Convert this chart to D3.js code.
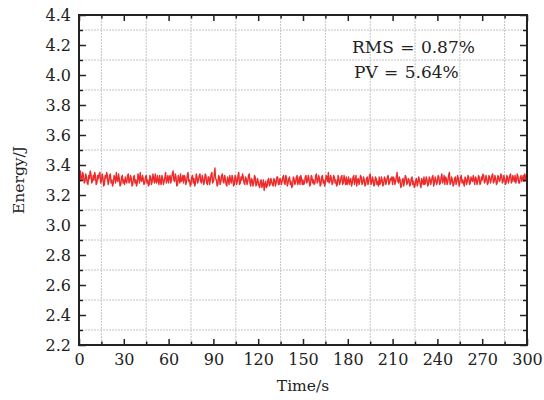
<!DOCTYPE html>
<html>
<head>
<meta charset="utf-8">
<script src="https://cdn.jsdelivr.net/npm/d3@7"></script>
<style>
  body { margin: 0; background: #fff; }
  text { font-family: "DejaVu Serif", serif; fill: #222; }
</style>
</head>
<body>
<div id="chart"></div>
<script>
// energy samples on whole seconds, 0..300 s
var energy = [
  3.34, 3.36, 3.30, 3.33, 3.29, 3.32, 3.27, 3.31, 3.34, 3.29,
  3.30, 3.33, 3.28, 3.31, 3.35, 3.29, 3.32, 3.27, 3.31, 3.33,
  3.29, 3.34, 3.30, 3.28, 3.32, 3.35, 3.29, 3.31, 3.27, 3.33,
  3.30, 3.32, 3.28, 3.34, 3.29, 3.31, 3.27, 3.33, 3.30, 3.28,
  3.32, 3.35, 3.29, 3.31, 3.28, 3.33, 3.30, 3.27, 3.32, 3.29,
  3.31, 3.34, 3.28, 3.30, 3.33, 3.27, 3.31, 3.29, 3.35, 3.30,
  3.28, 3.33, 3.31, 3.36, 3.29, 3.32, 3.27, 3.31, 3.34, 3.30,
  3.28, 3.32, 3.29, 3.35, 3.30, 3.27, 3.33, 3.31, 3.28, 3.32,
  3.30, 3.34, 3.28, 3.31, 3.29, 3.33, 3.27, 3.32, 3.30, 3.35,
  3.29, 3.38, 3.30, 3.27, 3.32, 3.29, 3.34, 3.28, 3.31, 3.26,
  3.30, 3.33, 3.28, 3.31, 3.27, 3.32, 3.29, 3.35, 3.28, 3.30,
  3.32, 3.27, 3.31, 3.29, 3.34, 3.26, 3.30, 3.28, 3.32, 3.27,
  3.29, 3.25, 3.30, 3.27, 3.23, 3.29, 3.26, 3.31, 3.27, 3.29,
  3.26, 3.30, 3.28, 3.32, 3.27, 3.30, 3.29, 3.33, 3.27, 3.31,
  3.28, 3.32, 3.29, 3.26, 3.31, 3.28, 3.33, 3.29, 3.27, 3.31,
  3.30, 3.28, 3.33, 3.29, 3.31, 3.27, 3.32, 3.30, 3.28, 3.34,
  3.29, 3.31, 3.27, 3.33, 3.30, 3.28, 3.32, 3.35, 3.29, 3.31,
  3.28, 3.32, 3.30, 3.27, 3.31, 3.29, 3.33, 3.28, 3.30, 3.32,
  3.29, 3.27, 3.31, 3.28, 3.33, 3.30, 3.26, 3.31, 3.29, 3.32,
  3.28, 3.30, 3.27, 3.32, 3.29, 3.34, 3.28, 3.30, 3.27, 3.31,
  3.29, 3.32, 3.28, 3.30, 3.27, 3.31, 3.29, 3.33, 3.28, 3.30,
  3.27, 3.31, 3.29, 3.35, 3.28, 3.30, 3.26, 3.31, 3.29, 3.32,
  3.28, 3.30, 3.27, 3.32, 3.29, 3.26, 3.31, 3.28, 3.30, 3.25,
  3.29, 3.32, 3.28, 3.30, 3.27, 3.31, 3.29, 3.33, 3.28, 3.30,
  3.29, 3.32, 3.28, 3.34, 3.30, 3.27, 3.31, 3.29, 3.35, 3.28,
  3.30, 3.27, 3.32, 3.29, 3.31, 3.28, 3.33, 3.30, 3.26, 3.31,
  3.29, 3.32, 3.28, 3.30, 3.33, 3.27, 3.31, 3.29, 3.32, 3.28,
  3.30, 3.33, 3.29, 3.31, 3.28, 3.32, 3.30, 3.34, 3.29, 3.31,
  3.28, 3.32, 3.30, 3.33, 3.29, 3.31, 3.28, 3.32, 3.30, 3.34,
  3.29, 3.31, 3.33, 3.30, 3.32, 3.28, 3.33, 3.31, 3.29, 3.32, 3.31
];
// energy samples on half seconds, 0.5..299.5 s
var energyHalf = [
  3.29, 3.31, 3.35, 3.28, 3.34, 3.28, 3.33, 3.36, 3.28, 3.33,
  3.35, 3.27, 3.33, 3.34, 3.28, 3.34, 3.26, 3.33, 3.35, 3.27,
  3.33, 3.28, 3.26, 3.33, 3.28, 3.30, 3.34, 3.26, 3.32, 3.28,
  3.27, 3.29, 3.33, 3.28, 3.33, 3.26, 3.32, 3.28, 3.26, 3.34,
  3.28, 3.30, 3.33, 3.27, 3.32, 3.28, 3.26, 3.33, 3.27, 3.34,
  3.28, 3.29, 3.33, 3.27, 3.29, 3.33, 3.27, 3.32, 3.28, 3.33,
  3.32, 3.28, 3.34, 3.30, 3.34, 3.26, 3.33, 3.28, 3.29, 3.33,
  3.33, 3.27, 3.33, 3.29, 3.26, 3.32, 3.28, 3.26, 3.34, 3.28,
  3.33, 3.29, 3.33, 3.27, 3.34, 3.28, 3.32, 3.27, 3.34, 3.28,
  3.33, 3.31, 3.26, 3.33, 3.27, 3.33, 3.29, 3.33, 3.27, 3.32,
  3.27, 3.30, 3.33, 3.26, 3.33, 3.27, 3.33, 3.27, 3.32, 3.34,
  3.28, 3.32, 3.27, 3.33, 3.28, 3.31, 3.26, 3.33, 3.26, 3.31,
  3.26, 3.29, 3.25, 3.30, 3.27, 3.25, 3.30, 3.26, 3.31, 3.27,
  3.31, 3.26, 3.32, 3.27, 3.31, 3.27, 3.32, 3.28, 3.33, 3.26,
  3.31, 3.27, 3.25, 3.32, 3.27, 3.32, 3.27, 3.32, 3.33, 3.27,
  3.27, 3.32, 3.28, 3.33, 3.26, 3.33, 3.28, 3.27, 3.33, 3.28,
  3.33, 3.26, 3.32, 3.28, 3.26, 3.33, 3.29, 3.28, 3.33, 3.27,
  3.33, 3.28, 3.26, 3.33, 3.27, 3.32, 3.27, 3.33, 3.27, 3.27,
  3.32, 3.30, 3.26, 3.32, 3.27, 3.33, 3.30, 3.27, 3.33, 3.27,
  3.32, 3.26, 3.31, 3.27, 3.33, 3.27, 3.32, 3.26, 3.32, 3.27,
  3.26, 3.27, 3.32, 3.26, 3.32, 3.27, 3.32, 3.27, 3.31, 3.32,
  3.32, 3.27, 3.32, 3.29, 3.32, 3.25, 3.30, 3.26, 3.33, 3.27,
  3.31, 3.26, 3.31, 3.27, 3.25, 3.30, 3.26, 3.32, 3.27, 3.31,
  3.27, 3.27, 3.32, 3.26, 3.32, 3.27, 3.32, 3.26, 3.32, 3.27,
  3.33, 3.27, 3.32, 3.28, 3.33, 3.32, 3.27, 3.33, 3.27, 3.32,
  3.26, 3.31, 3.27, 3.33, 3.26, 3.32, 3.28, 3.28, 3.32, 3.27,
  3.33, 3.27, 3.32, 3.29, 3.30, 3.32, 3.27, 3.33, 3.27, 3.32,
  3.34, 3.28, 3.33, 3.27, 3.33, 3.28, 3.33, 3.28, 3.33, 3.27,
  3.33, 3.29, 3.34, 3.28, 3.33, 3.27, 3.33, 3.28, 3.33, 3.28,
  3.33, 3.29, 3.28, 3.34, 3.28, 3.32, 3.29, 3.33, 3.34, 3.29
];
var xTicks = [0, 30, 60, 90, 120, 150, 180, 210, 240, 270, 300];
var xMinor = [15, 45, 75, 105, 135, 165, 195, 225, 255, 285];
var yTicks = [2.2, 2.4, 2.6, 2.8, 3.0, 3.2, 3.4, 3.6, 3.8, 4.0, 4.2, 4.4];
var yMinor = [2.3, 2.5, 2.7, 2.9, 3.1, 3.3, 3.5, 3.7, 3.9, 4.1, 4.3];
var notes = ["RMS = 0.87%", "PV = 5.64%"];

// interleave the two sample sets into one time series
var series = [];
energy.forEach((v, i) => {
  series.push({t: i, v: v});
  if (i < energyHalf.length) series.push({t: i + 0.5, v: energyHalf[i]});
});

var width = 544, height = 400,
    margin = {top: 15, right: 17, bottom: 55, left: 79};
var w = width - margin.left - margin.right,
    h = height - margin.top - margin.bottom;

var svg = d3.select("#chart").append("svg")
  .attr("width", width)
  .attr("height", height);
var g = svg.append("g")
  .attr("transform", `translate(${margin.left},${margin.top})`);

var x = d3.scaleLinear().domain([0, 300]).range([0, w]);
var y = d3.scaleLinear().domain([2.2, 4.4]).range([h, 0]);

// grid lines sit on the minor positions
g.append("g").selectAll("line").data(xMinor).enter().append("line")
  .attr("x1", d => x(d)).attr("x2", d => x(d))
  .attr("y1", 0).attr("y2", h)
  .attr("stroke", "#c4c4c4").attr("stroke-width", 1)
  .attr("stroke-dasharray", "2,1");
g.append("g").selectAll("line").data(yMinor).enter().append("line")
  .attr("y1", d => y(d)).attr("y2", d => y(d))
  .attr("x1", 0).attr("x2", w)
  .attr("stroke", "#c4c4c4").attr("stroke-width", 1)
  .attr("stroke-dasharray", "2,1");

// the signal
var line = d3.line()
  .x(d => x(d.t))
  .y(d => y(d.v));
g.append("path")
  .datum(series)
  .attr("fill", "none")
  .attr("stroke", "#ee2b2b")
  .attr("stroke-width", 1.4)
  .attr("stroke-linejoin", "round")
  .attr("d", line);

// axes, ticks pointing inwards
function styleAxis(sel) {
  sel.select(".domain").remove();
  sel.selectAll("line").attr("stroke", "#222").attr("stroke-width", 1.5);
  sel.selectAll("text").style("font-size", "16px").attr("fill", "#222");
}

var fmtY = d3.format(".1f");
g.append("g").attr("transform", `translate(0,${h})`)
  .call(d3.axisBottom(x).tickValues(xTicks).tickSize(-6).tickPadding(9))
  .call(styleAxis);
g.append("g").attr("transform", `translate(0,${h})`)
  .call(d3.axisBottom(x).tickValues(xMinor).tickSize(-3.5).tickFormat(""))
  .call(styleAxis);
g.append("g")
  .call(d3.axisTop(x).tickValues(xTicks).tickSize(-6).tickFormat(""))
  .call(styleAxis);
g.append("g")
  .call(d3.axisTop(x).tickValues(xMinor).tickSize(-3.5).tickFormat(""))
  .call(styleAxis);

g.append("g")
  .call(d3.axisLeft(y).tickValues(yTicks).tickSize(-7).tickPadding(8).tickFormat(fmtY))
  .call(styleAxis);
g.append("g")
  .call(d3.axisLeft(y).tickValues(yMinor).tickSize(-4).tickFormat(""))
  .call(styleAxis);
g.append("g").attr("transform", `translate(${w},0)`)
  .call(d3.axisRight(y).tickValues(yTicks).tickSize(-7).tickFormat(""))
  .call(styleAxis);
g.append("g").attr("transform", `translate(${w},0)`)
  .call(d3.axisRight(y).tickValues(yMinor).tickSize(-4).tickFormat(""))
  .call(styleAxis);

// frame
g.append("rect")
  .attr("width", w).attr("height", h)
  .attr("fill", "none")
  .attr("stroke", "#222")
  .attr("stroke-width", 2);

// axis titles
svg.append("text")
  .attr("x", margin.left + w / 2).attr("y", 391)
  .attr("text-anchor", "middle")
  .style("font-size", "15.5px")
  .text("Time/s");
svg.append("text")
  .attr("transform", `translate(24,${margin.top + h / 2}) rotate(-90)`)
  .attr("text-anchor", "middle")
  .style("font-size", "15.5px")
  .text("Energy/J");

// statistics
g.append("text")
  .attr("x", 273).attr("y", 38)
  .style("font-size", "17px")
  .style("word-spacing", "1px")
  .text(notes[0]);
g.append("text")
  .attr("x", 275).attr("y", 63)
  .style("font-size", "17px")
  .style("word-spacing", "1px")
  .text(notes[1]);
</script>
</body>
</html>
